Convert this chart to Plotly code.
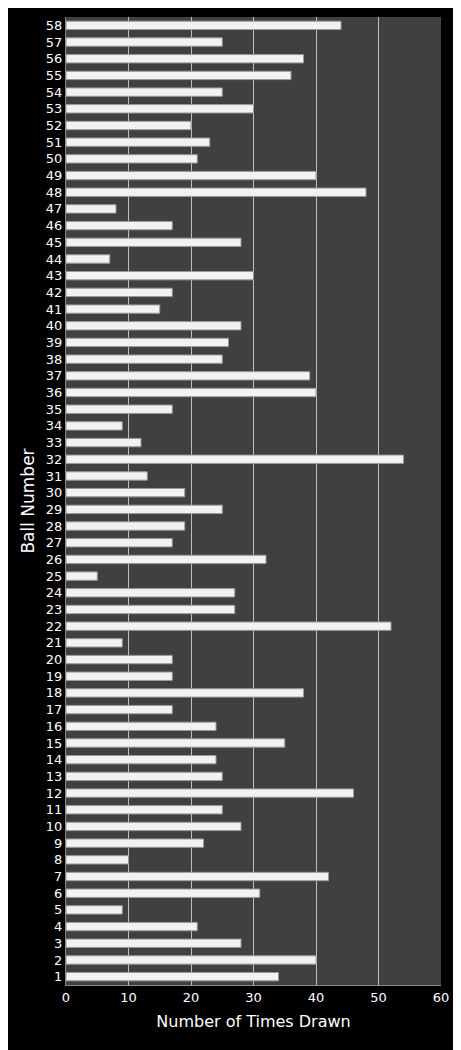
import plotly.graph_objects as go

balls = list(range(1, 59))
counts = [34, 40, 28, 21, 9, 31, 42, 10, 22, 28,
          25, 46, 25, 24, 35, 24, 17, 38, 17, 17,
          9, 52, 27, 27, 5, 32, 17, 19, 25, 19,
          13, 54, 12, 9, 17, 40, 39, 25, 26, 28,
          15, 17, 30, 7, 28, 17, 8, 48, 40, 21,
          23, 20, 30, 25, 36, 38, 25, 44]
x_ticks = [0, 10, 20, 30, 40, 50, 60]

fig = go.Figure(go.Bar(
    y=[str(b) for b in balls], x=counts, orientation="h",
    marker=dict(color="#f2f2f2", line=dict(color="#9a9a9a", width=1)),
))
fig.update_layout(
    width=461, height=1050,
    margin=dict(l=58, r=28, t=9, b=73),
    paper_bgcolor="black", plot_bgcolor="#404040",
    bargap=0.5, showlegend=False,
    font=dict(family="DejaVu Sans", color="white", size=13),
)
fig.update_xaxes(range=[0, 60], tickvals=x_ticks, showgrid=True, gridcolor="#bfbfbf",
                 gridwidth=1, zeroline=False, showline=True, linecolor="#888",
                 title=dict(text="Number of Times Drawn", font=dict(size=16), standoff=12),
                 tickfont=dict(size=13), ticks="", fixedrange=True)
fig.update_yaxes(type="category", title=dict(text="Ball Number", font=dict(size=17), standoff=6),
                 tickfont=dict(size=13), showgrid=False, showline=True, linecolor="#888",
                 ticks="", fixedrange=True)
fig.write_html("out.html")
